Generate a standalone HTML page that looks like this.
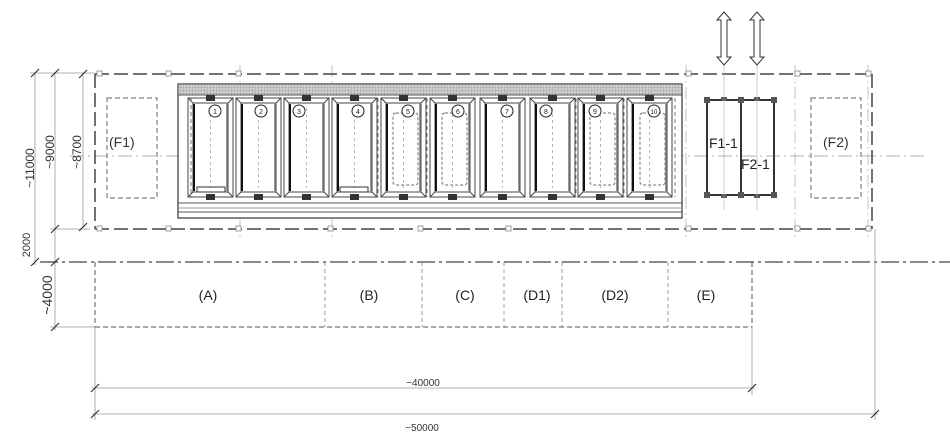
<!DOCTYPE html>
<html><head><meta charset="utf-8"><style>
html,body{margin:0;padding:0;background:#fff;}
svg{display:block;font-family:"Liberation Sans",sans-serif;}
</style></head><body>
<svg width="950" height="435" viewBox="0 0 950 435" xmlns="http://www.w3.org/2000/svg">
<defs>
<pattern id="hatch" width="3" height="3" patternUnits="userSpaceOnUse">
<rect width="3" height="3" fill="#cfcfcf"/><path d="M0 0H3M0 0V3" stroke="#888" stroke-width="0.6"/>
</pattern>
<g id="cell">
<rect x="0" y="0" width="45" height="99" fill="#fff" stroke="#444" stroke-width="1"/>
<rect x="5" y="5" width="35" height="89" fill="none" stroke="#444" stroke-width="1"/>
<line x1="0" y1="0" x2="5" y2="5" stroke="#444"/><line x1="45" y1="0" x2="40" y2="5" stroke="#444"/>
<line x1="0" y1="99" x2="5" y2="94" stroke="#444"/><line x1="45" y1="99" x2="40" y2="94" stroke="#444"/>
<line x1="6" y1="6" x2="6" y2="93" stroke="#111" stroke-width="2"/>
<line x1="39" y1="6" x2="39" y2="93" stroke="#777" stroke-width="1.5"/>
<rect x="18" y="-3" width="9" height="6" fill="#333"/>
<rect x="18" y="96" width="9" height="6" fill="#333"/>
<line x1="22.5" y1="10" x2="22.5" y2="90" stroke="#999" stroke-width="0.7" stroke-dasharray="3,3"/>
</g>
</defs>

<!-- center line -->
<line x1="70" y1="156" x2="925" y2="156" stroke="#999" stroke-width="0.8" stroke-dasharray="14,4,2,4"/>
<!-- grid vertical lines -->
<g stroke="#aaa" stroke-width="0.7" stroke-dasharray="12,4,2,4">
<line x1="240" y1="65" x2="240" y2="240"/><line x1="332" y1="65" x2="332" y2="240"/>
<line x1="686" y1="65" x2="686" y2="240"/><line x1="795" y1="65" x2="795" y2="240"/>
<line x1="868" y1="65" x2="868" y2="240"/>
</g>

<!-- outer dashed frame -->
<g fill="none" stroke="#444" stroke-width="1.5" stroke-dasharray="14,5">
<line x1="95" y1="74" x2="872" y2="74"/>
<line x1="95" y1="229" x2="872" y2="229"/>
<line x1="95" y1="74" x2="95" y2="229"/>
<line x1="872" y1="74" x2="872" y2="229"/>
</g>
<g fill="#fff" stroke="#777" stroke-width="0.7">
<rect x="97" y="71" width="5" height="5"/><rect x="166" y="71" width="5" height="5"/><rect x="236" y="71" width="5" height="5"/>
<rect x="686" y="71" width="5" height="5"/><rect x="795" y="71" width="5" height="5"/><rect x="866" y="71" width="5" height="5"/>
<rect x="97" y="226" width="5" height="5"/><rect x="166" y="226" width="5" height="5"/><rect x="236" y="226" width="5" height="5"/>
<rect x="328" y="226" width="5" height="5"/><rect x="418" y="226" width="5" height="5"/><rect x="506" y="226" width="5" height="5"/>
<rect x="686" y="226" width="5" height="5"/><rect x="795" y="226" width="5" height="5"/><rect x="866" y="226" width="5" height="5"/>
</g>

<!-- building -->
<rect x="178" y="84" width="504" height="134" fill="#fff" stroke="#333" stroke-width="1.2"/>
<rect x="178" y="84" width="504" height="11" fill="url(#hatch)" stroke="#333" stroke-width="0.8"/>
<line x1="178" y1="203" x2="682" y2="203" stroke="#555"/>
<line x1="178" y1="208" x2="682" y2="208" stroke="#999"/>
<line x1="178" y1="212" x2="682" y2="212" stroke="#555"/>

<use href="#cell" x="188" y="98"/><use href="#cell" x="236" y="98"/><use href="#cell" x="284" y="98"/>
<use href="#cell" x="332" y="98"/><use href="#cell" x="381" y="98"/><use href="#cell" x="430" y="98"/>
<use href="#cell" x="480" y="98"/><use href="#cell" x="530" y="98"/><use href="#cell" x="578" y="98"/>
<use href="#cell" x="627" y="98"/>
<g fill="none" stroke="#888" stroke-width="1.2" stroke-dasharray="3,2">
<rect x="393" y="113" width="25" height="72" rx="3"/><rect x="442" y="113" width="25" height="72" rx="3"/>
<rect x="590" y="113" width="25" height="72" rx="3"/><rect x="640" y="113" width="25" height="72" rx="3"/>
</g>
<g stroke="#555" stroke-width="0.8" stroke-dasharray="4,3">
<line x1="191" y1="98" x2="191" y2="197"/><line x1="378" y1="98" x2="378" y2="197"/><line x1="427" y1="98" x2="427" y2="197"/>
<line x1="576" y1="98" x2="576" y2="197"/><line x1="624" y1="98" x2="624" y2="197"/><line x1="675" y1="98" x2="675" y2="197"/>
</g>
<g fill="#fff" stroke="#222" stroke-width="1">
<circle cx="215" cy="111" r="6"/><circle cx="261" cy="111" r="6"/><circle cx="299" cy="111" r="6"/>
<circle cx="358" cy="111" r="6"/><circle cx="408" cy="111" r="6"/><circle cx="458" cy="111" r="6"/>
<circle cx="507" cy="111" r="6"/><circle cx="546" cy="111" r="6"/><circle cx="595" cy="111" r="6"/>
<circle cx="654" cy="111" r="6"/>
</g>
<g font-size="7" text-anchor="middle" fill="#222">
<text x="215" y="114">1</text><text x="261" y="114">2</text><text x="299" y="114">3</text>
<text x="358" y="114">4</text><text x="408" y="114">5</text><text x="458" y="114">6</text>
<text x="507" y="114">7</text><text x="546" y="114">8</text><text x="595" y="114">9</text>
<text x="654" y="114" font-size="6">10</text>
</g>
<g fill="none" stroke="#333" stroke-width="1">
<rect x="197" y="187" width="28" height="5"/><rect x="340" y="187" width="28" height="5"/>
</g>

<!-- F1 F2 dashed -->
<g fill="none" stroke="#666" stroke-width="1" stroke-dasharray="5,3">
<rect x="107" y="98" width="50" height="100"/>
<rect x="811" y="98" width="50" height="100"/>
</g>
<text x="109" y="147" font-size="14" fill="#333">(F1)</text>
<text x="823" y="147" font-size="14" fill="#333">(F2)</text>

<!-- F1-1 F2-1 -->
<g fill="none" stroke="#333" stroke-width="2">
<rect x="707" y="100" width="34" height="95"/>
<rect x="741" y="100" width="33" height="95"/>
</g>
<g fill="#555">
<rect x="704" y="97" width="6" height="6"/><rect x="738" y="97" width="6" height="6"/><rect x="771" y="97" width="6" height="6"/>
<rect x="704" y="192" width="6" height="6"/><rect x="738" y="192" width="6" height="6"/><rect x="771" y="192" width="6" height="6"/>
<rect x="721" y="97" width="6" height="4"/><rect x="754" y="97" width="6" height="4"/>
<rect x="721" y="194" width="6" height="4"/><rect x="754" y="194" width="6" height="4"/>
</g>
<line x1="724" y1="65" x2="724" y2="210" stroke="#aaa" stroke-width="0.6"/>
<line x1="757" y1="65" x2="757" y2="210" stroke="#aaa" stroke-width="0.6"/>
<text x="709" y="148" font-size="14" fill="#222">F1-1</text>
<text x="741" y="169" font-size="14" fill="#222">F2-1</text>
<!-- arrows -->
<g fill="#fff" stroke="#333" stroke-width="1">
<polygon points="724,12 731,20 727,20 727,57 731,57 724,65 717,57 721,57 721,20 717,20"/>
<polygon points="757,12 764,20 760,20 760,57 764,57 757,65 750,57 754,57 754,20 750,20"/>
</g>

<!-- ground line -->
<line x1="40" y1="262" x2="950" y2="262" stroke="#444" stroke-width="1.2" stroke-dasharray="18,4,3,4"/>
<!-- zones -->
<g fill="none" stroke="#555" stroke-width="1" stroke-dasharray="5,3">
<line x1="95" y1="327" x2="752" y2="327"/>
<line x1="95" y1="262" x2="95" y2="327"/>
<line x1="752" y1="262" x2="752" y2="327"/>
</g>
<g stroke="#777" stroke-width="0.7" stroke-dasharray="4,3">
<line x1="325" y1="262" x2="325" y2="327"/><line x1="422" y1="262" x2="422" y2="327"/>
<line x1="504" y1="262" x2="504" y2="327"/><line x1="562" y1="262" x2="562" y2="327"/>
<line x1="668" y1="262" x2="668" y2="327"/>
</g>
<g font-size="14" fill="#222" text-anchor="middle">
<text x="208" y="300">(A)</text><text x="369" y="300">(B)</text><text x="465" y="300">(C)</text>
<text x="537" y="300">(D1)</text><text x="615" y="300">(D2)</text><text x="706" y="300">(E)</text>
</g>

<!-- dimensions -->
<g stroke="#999" stroke-width="0.8" fill="none">
<line x1="35" y1="73" x2="35" y2="265"/>
<line x1="55" y1="73" x2="55" y2="330"/>
<line x1="83" y1="73" x2="83" y2="228"/>
<line x1="30" y1="73" x2="95" y2="73"/>
<line x1="50" y1="229" x2="90" y2="229"/>
<line x1="50" y1="327" x2="95" y2="327"/>
<line x1="95" y1="327" x2="95" y2="420"/>
<line x1="752" y1="327" x2="752" y2="395"/>
<line x1="875" y1="229" x2="875" y2="420"/>
<line x1="92" y1="388" x2="755" y2="388"/>
<line x1="92" y1="414" x2="878" y2="414"/>
</g>
<g stroke="#222" stroke-width="1">
<line x1="31" y1="77" x2="39" y2="69"/><line x1="51" y1="77" x2="59" y2="69"/><line x1="79" y1="78" x2="87" y2="70"/>
<line x1="79" y1="231" x2="87" y2="223"/><line x1="51" y1="233" x2="59" y2="225"/>
<line x1="31" y1="266" x2="39" y2="258"/><line x1="51" y1="266" x2="59" y2="258"/>
<line x1="51" y1="331" x2="59" y2="323"/>
<line x1="91" y1="392" x2="99" y2="384"/><line x1="748" y1="392" x2="756" y2="384"/>
<line x1="91" y1="418" x2="99" y2="410"/><line x1="871" y1="418" x2="879" y2="410"/>
</g>
<g font-size="12" fill="#333" text-anchor="middle">
<text transform="translate(34,168) rotate(-90)">~11000</text>
<text transform="translate(54,152) rotate(-90)">~9000</text>
<text transform="translate(81,152) rotate(-90)">~8700</text>
<text transform="translate(30,245) rotate(-90)" font-size="11">2000</text>
<text transform="translate(52,295) rotate(-90)" font-size="14">~4000</text>
</g>
<text x="423" y="386" font-size="10" fill="#333" text-anchor="middle">~40000</text>
<text x="422" y="431" font-size="10" fill="#333" text-anchor="middle">~50000</text>
</svg>
</body></html>
